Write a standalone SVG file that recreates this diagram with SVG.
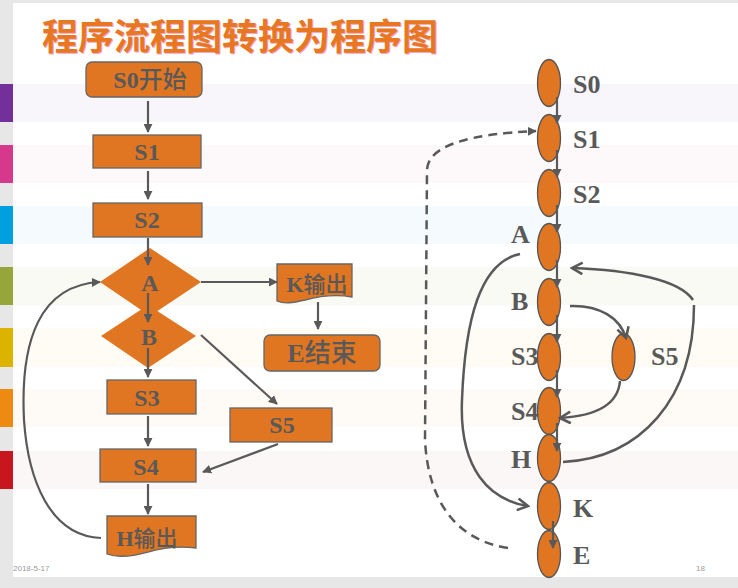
<svg xmlns="http://www.w3.org/2000/svg" width="738" height="588" viewBox="0 0 738 588">
<defs>
<marker id="tri" viewBox="0 0 10 10" refX="9" refY="5" markerWidth="9" markerHeight="9" markerUnits="userSpaceOnUse" orient="auto"><path d="M0,0 L10,5 L0,10 Z" fill="#595959"/></marker>
<marker id="open" viewBox="0 0 12 12" refX="10" refY="6" markerWidth="14" markerHeight="14" markerUnits="userSpaceOnUse" orient="auto"><path d="M1,1 L10,6 L1,11" fill="none" stroke="#595959" stroke-width="2.2"/></marker>
</defs>
<style>
.box{fill:#E07522;stroke:#666;stroke-width:1.3}
.lt{font-family:"Liberation Serif","Noto Sans CJK SC",serif;font-weight:bold;fill:#595959;text-anchor:middle}
.cj{font-family:"Noto Sans CJK SC",sans-serif;font-weight:500}
.rt{font-family:"Liberation Serif",serif;font-weight:bold;fill:#595959;font-size:26px}
.ar{stroke:#595959;stroke-width:2.2;fill:none;marker-end:url(#tri)}
.cv{stroke:#595959;stroke-width:2.5;fill:none}
.el{fill:#E07522;stroke:#555;stroke-width:1.3}
</style>
<rect width="738" height="588" fill="#ffffff"/>
<rect x="0" y="0" width="738" height="3" fill="#e8e7e8"/>
<rect x="0" y="0" width="13" height="588" fill="#e8e7e8"/>
<rect x="0" y="577" width="738" height="11" fill="#e8e7e8"/>
<g id="bands">
<rect x="13" y="84" width="725" height="38" fill="#f8f6fa"/>
<rect x="13" y="145" width="725" height="38" fill="#fdf8fa"/>
<rect x="13" y="206" width="725" height="38" fill="#f5fafe"/>
<rect x="13" y="267" width="725" height="38" fill="#fafaf5"/>
<rect x="13" y="328" width="725" height="39" fill="#fefcf5"/>
<rect x="13" y="389" width="725" height="38" fill="#fefbf7"/>
<rect x="13" y="451" width="725" height="38" fill="#fcf7f7"/>
<rect x="0" y="84" width="13" height="38" fill="#73309a"/>
<rect x="0" y="145" width="13" height="38" fill="#d6388c"/>
<rect x="0" y="206" width="13" height="38" fill="#00a0e0"/>
<rect x="0" y="267" width="13" height="38" fill="#96a63a"/>
<rect x="0" y="328" width="13" height="39" fill="#dcb400"/>
<rect x="0" y="389" width="13" height="38" fill="#ee8a12"/>
<rect x="0" y="451" width="13" height="38" fill="#c8161e"/>
</g>
<g id="title" font-family="'Noto Sans CJK SC',sans-serif" font-weight="bold" font-size="36">
<text x="43" y="51" fill="#f4a8c8">程序流程图转换为程序图</text>
<text x="42" y="50" fill="#E87722">程序流程图转换为程序图</text>
</g>
<g id="footer" font-family="'Liberation Sans',sans-serif" font-size="8" fill="#999">
<text x="13" y="571">2018-5-17</text>
<text x="696" y="571">18</text>
</g>
<g id="S0start"><rect class="box" x="86" y="62" width="116" height="35" rx="6"/><text class="lt" x="150" y="88" font-size="24">S0<tspan class="cj">开始</tspan></text></g>
<g id="S1box"><rect class="box" x="93" y="135" width="108" height="33"/><text class="lt" x="147" y="160" font-size="24">S1</text></g>
<g id="S2box"><rect class="box" x="93" y="203" width="109" height="34"/><text class="lt" x="147" y="228" font-size="24">S2</text></g>
<g id="Adiamond"><path d="M150,248 L201,282 L150,316 L100,282 Z" fill="#E07522"/><text class="lt" x="150" y="291" font-size="24">A</text></g>
<g id="Bdiamond"><path d="M148,305 L196,336 L148,368 L101,336 Z" fill="#E07522"/><text class="lt" x="149" y="345" font-size="24">B</text></g>
<g id="Kout"><path class="box" d="M277,264 H352 V297 C335,294 320,296 305,300 C292,303 284,304 277,301 Z"/><text class="lt" x="317" y="292" font-size="22">K<tspan class="cj">输出</tspan></text></g>
<g id="Eend"><rect class="box" x="264" y="335" width="116" height="36" rx="6"/><text class="lt" x="322" y="362" font-size="26">E<tspan class="cj">结束</tspan></text></g>
<g id="S3box"><rect class="box" x="107" y="380" width="89" height="34"/><text class="lt" x="147" y="406" font-size="24">S3</text></g>
<g id="S5box"><rect class="box" x="230" y="408" width="102" height="34"/><text class="lt" x="282" y="433" font-size="24">S5</text></g>
<g id="S4box"><rect class="box" x="100" y="449" width="96" height="33"/><text class="lt" x="146" y="475" font-size="24">S4</text></g>
<g id="Hout"><path class="box" d="M107,516 H196 V548 C178,546 162,548 148,552 C130,557 118,558 107,554 Z"/><text class="lt" x="147" y="546" font-size="22">H<tspan class="cj">输出</tspan></text></g>
<g id="nS0"><ellipse class="el" cx="549" cy="83" rx="11.5" ry="23.5"/><text class="rt" x="573" y="93">S0</text></g>
<g id="nS1"><ellipse class="el" cx="549" cy="138" rx="11.5" ry="23.5"/><text class="rt" x="573" y="148">S1</text></g>
<g id="nS2"><ellipse class="el" cx="549" cy="193" rx="11.5" ry="23.5"/><text class="rt" x="573" y="203">S2</text></g>
<g id="nA"><ellipse class="el" cx="549" cy="247" rx="11.5" ry="23.5"/><text class="rt" x="511" y="243">A</text></g>
<g id="nB"><ellipse class="el" cx="549" cy="302" rx="11.5" ry="23.5"/><text class="rt" x="511" y="310">B</text></g>
<g id="nS3"><ellipse class="el" cx="549" cy="357" rx="11.5" ry="23.5"/><text class="rt" x="511" y="365">S3</text></g>
<g id="nS5"><ellipse class="el" cx="623.5" cy="357" rx="11.5" ry="23.5"/><text class="rt" x="651" y="365">S5</text></g>
<g id="nS4"><ellipse class="el" cx="549" cy="411" rx="11.5" ry="23.5"/><text class="rt" x="511" y="420">S4</text></g>
<g id="nH"><ellipse class="el" cx="549" cy="458" rx="11.5" ry="23.5"/><text class="rt" x="511" y="468">H</text></g>
<g id="nK"><ellipse class="el" cx="549" cy="506" rx="11.5" ry="23.5"/><text class="rt" x="573" y="517">K</text></g>
<g id="nE"><ellipse class="el" cx="549" cy="554" rx="11.5" ry="23.5"/><text class="rt" x="573" y="564">E</text></g>
<g id="connectors">
<line class="ar" x1="148" y1="101" x2="148" y2="132"/>
<line class="ar" x1="148" y1="171" x2="148" y2="199"/>
<line class="ar" x1="148" y1="238" x2="148" y2="265"/>
<line class="ar" x1="148" y1="293" x2="148" y2="322"/>
<line class="ar" x1="148" y1="348" x2="148" y2="377"/>
<line class="ar" x1="201" y1="282" x2="277" y2="282"/>
<line class="ar" x1="318" y1="302" x2="318" y2="329"/>
<line class="ar" x1="201" y1="335" x2="277" y2="404"/>
<line class="ar" x1="148" y1="416" x2="148" y2="446"/>
<line class="ar" x1="278" y1="444" x2="203" y2="472"/>
<line class="ar" x1="148" y1="484" x2="148" y2="514"/>
<path class="ar" d="M101,538 C50,536 28,480 24,420 C20,340 40,285 100,282"/>
<line class="ar" x1="557" y1="97" x2="557" y2="123"/>
<line class="ar" x1="557" y1="150" x2="557" y2="177"/>
<line class="ar" x1="557" y1="205" x2="557" y2="232"/>
<line class="ar" x1="557" y1="260" x2="557" y2="287"/>
<line class="ar" x1="557" y1="315" x2="557" y2="342"/>
<line class="ar" x1="557" y1="370" x2="557" y2="397"/>
<line class="ar" x1="557" y1="423" x2="557" y2="451"/>
<line class="ar" x1="553" y1="521" x2="553" y2="548"/>
<path class="cv" marker-end="url(#open)" d="M570,306 C600,305 620,318 626,338"/>
<path class="cv" marker-end="url(#open)" d="M620,381 C618,405 595,416 560,418"/>
<path class="cv" d="M563,462 C640,458 694,400 694,305"/>
<path class="cv" marker-end="url(#open)" d="M693,300 C680,280 630,270 572,268"/>
<path class="cv" marker-end="url(#open)" d="M520,254 C480,262 465,320 462,400 C459,470 490,500 528,506"/>
<path d="M508,548 C455,540 428,500 425,440 L427,170 C428,145 470,134 536,131" fill="none" stroke="#595959" stroke-width="2.5" stroke-dasharray="9,6" marker-end="url(#tri)"/>
</g>
</svg>
